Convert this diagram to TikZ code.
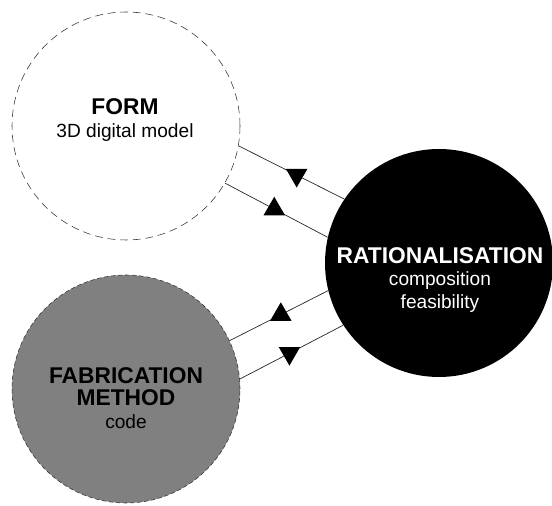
\documentclass[tikz,border=0pt]{standalone}
\usepackage{fontspec}
\setmainfont{Liberation Sans}
\usetikzlibrary{shapes.geometric}
\newcommand{\ttl}[1]{{\bfseries\fontsize{16.2}{16}\selectfont #1}}

\begin{document}
\begin{tikzpicture}[thin,
                    circ node/.style={circle,minimum size=5.7cm,inner sep=0pt},
                    tri/.style={regular polygon,regular polygon sides=3,fill=black,inner sep=0pt,minimum size=0.62cm},
                    tri down/.style={tri,shape border rotate=180},
                    link/.style={black!85,line width=0.5pt},
                    txt/.style={align=center,font=\fontsize{13.6}{15.8}\selectfont}
                   ]
   \useasboundingbox (0,0) rectangle (13.8,12.65);
   \node[circ node,draw=black!80,dash pattern=on 5.5pt off 3.5pt,fill=white] (form) at (3.15,9.5) {};
   \node[circ node,draw=black!80,dash pattern=on 3pt off 2pt,fill=gray] (fab) at (3.15,2.925) {};
   \node[circ node,fill=black] (rat) at (10.975,6.075) {};
   \node[txt] (formtxt) at (3.125,9.65) {\ttl{FORM}\\3D digital model};
   \node[txt] (fabtxt) at (3.15,2.7) {\ttl{FABRICATION}\\\ttl{METHOD}\\code};
   \node[txt,text=white] (rattxt) at (11.0,5.65) {\ttl{RATIONALISATION}\\composition\\feasibility};
   \draw[link] (form.-10) -- node[tri down,pos=.55] {} (rat.146);  % back to form
   \draw[link] (form.-30) -- node[tri,pos=.48] {} (rat.167);
   \draw[link] (fab.25) -- node[tri,pos=.52] {} (rat.194);
   \draw[link] (fab.5.5) -- node[tri down,pos=.48] {} (rat.213);
\end{tikzpicture}
\end{document}
